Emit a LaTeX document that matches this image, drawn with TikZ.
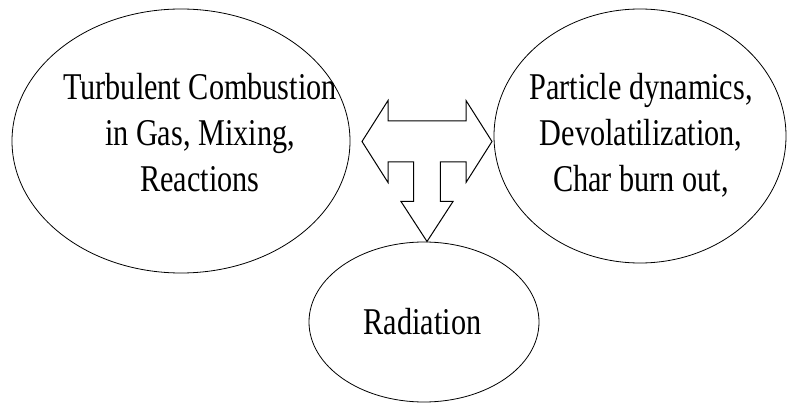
\documentclass[tikz,border=0pt]{standalone}
\usepackage{fontspec}
\newfontfamily\diagfont[FakeStretch=0.8]{Liberation Serif}
\usepackage{tikz}
\usetikzlibrary{positioning, calc, shapes.geometric}

\begin{document}
\begin{tikzpicture}[x=1pt, y=-1pt, every node/.style={font=\diagfont\fontsize{37.8}{46}\selectfont}]
    \tikzstyle{oval} = [draw, ellipse, inner sep=0pt, line width=0.8pt]
    \tikzstyle{label} = [align=center, inner sep=0pt]
    \tikzstyle{fatarrow} = [draw, line width=1pt, line join=miter]

    \useasboundingbox (0,0) rectangle (787,403);

    % Process Ovals
    \node (gas) [oval, minimum width=338pt, minimum height=264pt] at (181,141) {};
    \node (part) [oval, minimum width=292pt, minimum height=254pt] at (640,136) {};
    \node (rad) [oval, minimum width=230pt, minimum height=160pt] at (424,322) {};

    % Texts
    \node (gastext) [label] at (200,133) {Turbulent Combustion\\in Gas, Mixing,\\Reactions};
    \node (parttext) [label] at (641,135.5) {Particle dynamics,\\Devolatilization,\\Char burn out,};
    \node (radtext) [label] at (422.5,322) {Radiation};

    % Coupling Arrow
    \coordinate (hub) at (427,141.5);
    \draw [fatarrow] (hub)
        ++(-65,0) -- ++(26,-41) -- ++(0,20.5) -- ++(78,0) -- ++(0,-20.5)
        -- ++(26,41) -- ++(-26,41) -- ++(0,-20.5) -- ++(-25.7,0) -- ++(0,39.5)
        -- ++(12.7,0) -- ++(-26,40) -- ++(-26,-40) -- ++(12.7,0)
        -- ++(0,-39.5) -- ++(-25.7,0) -- ++(0,20.5) -- cycle;
\end{tikzpicture}
\end{document}
